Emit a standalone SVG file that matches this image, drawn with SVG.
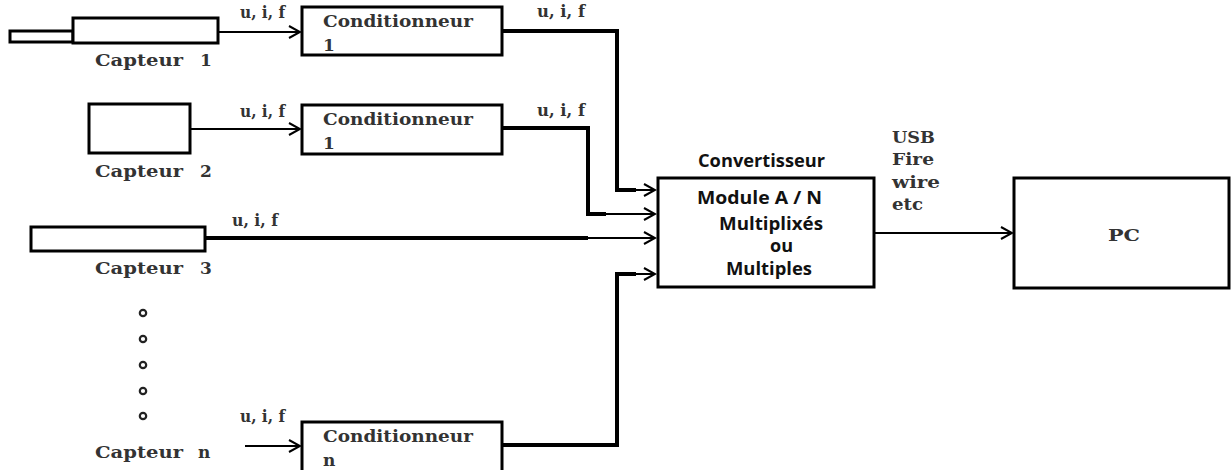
<svg xmlns="http://www.w3.org/2000/svg" width="1231" height="470" viewBox="0 0 1231 470">
<defs>
<marker id="arr" markerWidth="14" markerHeight="14" refX="12" refY="7" orient="auto" markerUnits="userSpaceOnUse">
<path d="M1,1 L12,7 L1,13" fill="none" stroke="#000" stroke-width="2"/>
</marker>
<style>
.box{fill:#fff;stroke:#000;stroke-width:3}
.ser{font-family:"DejaVu Serif","Liberation Serif",serif;font-weight:bold;fill:#333;font-size:17px}
.lbl{font-family:"DejaVu Serif","Liberation Serif",serif;font-weight:bold;fill:#333;font-size:16px}
.sans{font-family:"Open Sans","Liberation Sans",sans-serif;font-weight:bold;fill:#111;font-size:17.5px}
.thin{fill:none;stroke:#000;stroke-width:2}
.thick{fill:none;stroke:#000;stroke-width:4}
</style>
</defs>
<rect width="1231" height="470" fill="#fff"/>
<g id="connectors">
<line class="thin" x1="218" y1="32" x2="300" y2="32" marker-end="url(#arr)"/>
<line class="thin" x1="190" y1="129" x2="300" y2="129" marker-end="url(#arr)"/>
<line class="thin" x1="245" y1="446" x2="300" y2="446" marker-end="url(#arr)"/>
<polyline class="thick" points="502,31 617,31 617,190 636,190"/>
<line class="thin" x1="620" y1="190" x2="655" y2="190" marker-end="url(#arr)"/>
<polyline class="thick" points="502,128 588,128 588,214 606,214"/>
<line class="thin" x1="590" y1="214" x2="655" y2="214" marker-end="url(#arr)"/>
<line class="thick" x1="205" y1="238" x2="588" y2="238"/>
<line class="thin" x1="580" y1="238" x2="655" y2="238" marker-end="url(#arr)"/>
<polyline class="thick" points="502,445 617,445 617,274 636,274"/>
<line class="thin" x1="620" y1="274" x2="655" y2="274" marker-end="url(#arr)"/>
<line class="thin" x1="875" y1="233" x2="1012" y2="233" marker-end="url(#arr)"/>
</g>
<g id="capteur1">
<rect class="box" x="10" y="31" width="63" height="11"/>
<rect class="box" x="73" y="18" width="145" height="25"/>
<text class="ser" x="95" y="66" textLength="88" lengthAdjust="spacingAndGlyphs">Capteur</text>
<text class="ser" x="200" y="66">1</text>
<text class="lbl" x="240" y="18" textLength="45" lengthAdjust="spacingAndGlyphs">u, i, f</text>
</g>
<g id="capteur2">
<rect class="box" x="89" y="104" width="101" height="49"/>
<text class="ser" x="95" y="177" textLength="88" lengthAdjust="spacingAndGlyphs">Capteur</text>
<text class="ser" x="200" y="177">2</text>
<text class="lbl" x="240" y="117" textLength="45" lengthAdjust="spacingAndGlyphs">u, i, f</text>
</g>
<g id="capteur3">
<rect class="box" x="31" y="227" width="174" height="24"/>
<text class="ser" x="95" y="274" textLength="88" lengthAdjust="spacingAndGlyphs">Capteur</text>
<text class="ser" x="200" y="274">3</text>
<text class="lbl" x="232" y="226" textLength="46" lengthAdjust="spacingAndGlyphs">u, i, f</text>
</g>
<g id="dots" fill="none" stroke="#222" stroke-width="2.2">
<circle cx="143" cy="313" r="3.2"/>
<circle cx="143" cy="339" r="3.2"/>
<circle cx="143" cy="365" r="3.2"/>
<circle cx="143" cy="391" r="3.2"/>
<circle cx="143" cy="416" r="3.2"/>
</g>
<g id="capteurn">
<text class="ser" x="95" y="458" textLength="88" lengthAdjust="spacingAndGlyphs">Capteur</text>
<text class="ser" x="198" y="458">n</text>
<text class="lbl" x="240" y="422" textLength="45" lengthAdjust="spacingAndGlyphs">u, i, f</text>
</g>
<g id="cond1">
<rect class="box" x="302" y="7" width="200" height="48"/>
<text class="ser" x="323" y="27" textLength="150" lengthAdjust="spacingAndGlyphs">Conditionneur</text>
<text class="ser" x="323" y="51">1</text>
<text class="lbl" x="537" y="17" textLength="48" lengthAdjust="spacingAndGlyphs">u, i, f</text>
</g>
<g id="cond2">
<rect class="box" x="302" y="105" width="200" height="49"/>
<text class="ser" x="323" y="125" textLength="150" lengthAdjust="spacingAndGlyphs">Conditionneur</text>
<text class="ser" x="323" y="149">1</text>
<text class="lbl" x="537" y="116" textLength="48" lengthAdjust="spacingAndGlyphs">u, i, f</text>
</g>
<g id="condn">
<rect class="box" x="302" y="422" width="200" height="52"/>
<text class="ser" x="323" y="442" textLength="150" lengthAdjust="spacingAndGlyphs">Conditionneur</text>
<text class="ser" x="323" y="466">n</text>
</g>
<g id="convertisseur">
<text class="sans" x="698" y="167" textLength="127" lengthAdjust="spacingAndGlyphs">Convertisseur</text>
<rect class="box" x="658" y="178" width="216" height="109"/>
<text class="sans" x="697" y="204" textLength="125" lengthAdjust="spacingAndGlyphs">Module A / N</text>
<text class="sans" x="719" y="230" textLength="104" lengthAdjust="spacingAndGlyphs">Multiplixés</text>
<text class="sans" x="770" y="252" textLength="23" lengthAdjust="spacingAndGlyphs">ou</text>
<text class="sans" x="726" y="275" textLength="86" lengthAdjust="spacingAndGlyphs">Multiples</text>
</g>
<g id="usb">
<text class="ser" x="892" y="143" textLength="43" lengthAdjust="spacingAndGlyphs">USB</text>
<text class="ser" x="892" y="165" textLength="42" lengthAdjust="spacingAndGlyphs">Fire</text>
<text class="ser" x="892" y="188" textLength="48" lengthAdjust="spacingAndGlyphs">wire</text>
<text class="ser" x="892" y="210" textLength="31" lengthAdjust="spacingAndGlyphs">etc</text>
</g>
<g id="pc">
<rect class="box" x="1014" y="178" width="215" height="110"/>
<text class="ser" x="1108" y="241" font-size="21" textLength="32" lengthAdjust="spacingAndGlyphs">PC</text>
</g>
</svg>
